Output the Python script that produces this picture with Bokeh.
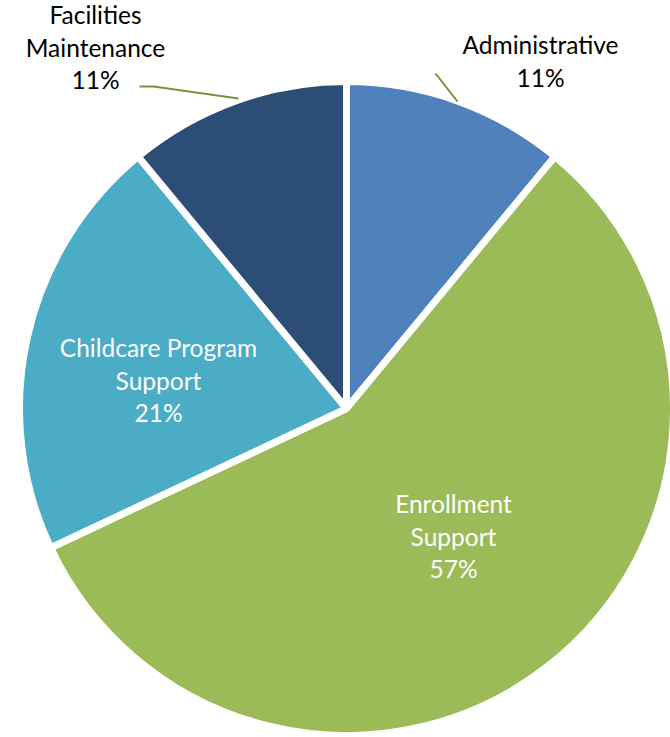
import numpy as np
from bokeh.plotting import figure
from bokeh.models import Range1d, ColumnDataSource
from bokeh.core.properties import value
from bokeh.embed import file_html
from bokeh.resources import INLINE

# ---- data ----
categories = ["Administrative", "Enrollment Support", "Childcare Program Support", "Facilities Maintenance"]
shares = [11, 57, 21, 11]
colors = ["#4F81BD", "#9BBB59", "#4BACC6", "#2C4D75"]

# label lines per slice
label_lines = [
    ["Administrative", "11%"],
    ["Enrollment", "Support", "57%"],
    ["Childcare Program", "Support", "21%"],
    ["Facilities", "Maintenance", "11%"],
]
label_colors = ["#000000", "#FFFFFF", "#FFFFFF", "#000000"]

# ---- layout (reference pixel coords) ----
FW, FH = 670, 737
CX, CY, R = 346, 408, 327
label_anchor = [(540, 44), (453, 503), (158, 347), (95, 14)]  # x center, first line anchor
LINE_GAP = 32.5

def yd(y):
    return FH - y

p = figure(width=FW, height=FH, output_backend="svg", toolbar_location=None,
           x_range=Range1d(0, FW), y_range=Range1d(0, FH),
           min_border=0)
p.axis.visible = False
p.grid.visible = False
p.outline_line_color = None
p.background_fill_color = "white"
p.border_fill_color = "white"

vals = np.array(shares, dtype=float)
frac = vals / vals.sum()
cum = np.concatenate([[0.0], np.cumsum(frac)]) * 360.0  # clockwise from top, degrees
start = np.radians(90.0 - cum[:-1])
end = np.radians(90.0 - cum[1:])

src = ColumnDataSource(dict(cat=categories, share=shares, start=start, end=end, color=colors))
p.wedge(x=CX, y=yd(CY), radius=R, start_angle="start", end_angle="end", direction="clock",
        fill_color="color", line_color="white", line_width=7, source=src)

# leader lines
p.line(x=[139, 153, 238], y=[yd(86), yd(86), yd(98)], line_color="#77933C", line_width=2)
p.line(x=[435, 457], y=[yd(73), yd(101)], line_color="#77933C", line_width=2)

# labels
for lines, (lx, ly), col in zip(label_lines, label_anchor, label_colors):
    xs = [lx] * len(lines)
    ys = [yd(ly + i * LINE_GAP) for i in range(len(lines))]
    p.text(x=xs, y=ys, text=lines, text_align="center", text_baseline="alphabetic",
           text_color=col, text_font=value("Lato"), text_font_size="24.5px")

open("out.html", "w").write(file_html(p, INLINE))
